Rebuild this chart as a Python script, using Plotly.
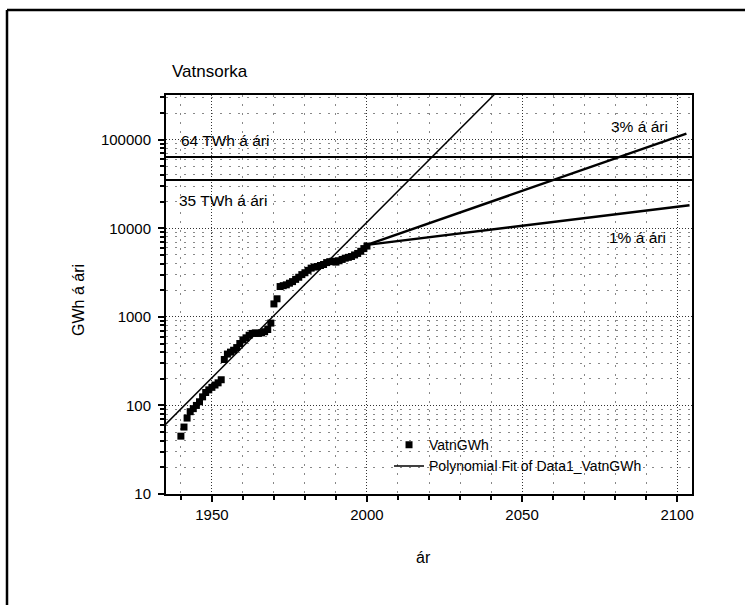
import plotly.graph_objects as go
import math

# ---- data ----
years = list(range(1940, 2001))
vatn_gwh = [45, 57, 72, 85, 92, 100, 110, 125, 140, 150,
            160, 170, 180, 195, 330, 380, 400, 420, 450, 500,
            550, 580, 620, 650, 660, 650, 660, 680, 720, 850,
            1400, 1600, 2200, 2250, 2300, 2400, 2500, 2650, 2800, 3000,
            3150, 3350, 3550, 3650, 3700, 3800, 3900, 4100, 4200, 4250,
            4150, 4300, 4450, 4600, 4700, 4800, 5000, 5200, 5500, 5900,
            6300]

fit_years = [1935, 2042]
fit_gwh = [61, 350000]

pct3_years = [2000, 2103]
pct3_gwh = [6500, 117000]

pct1_years = [2000, 2104]
pct1_gwh = [6500, 18200]

level_years = [1935, 2105]
level_64 = [64000, 64000]
level_35 = [35000, 35000]

labels = ["64 TWh á ári", "35 TWh á ári", "3% á ári", "1% á ári"]
label_x = [1939.5, 1938.9, 2097.7, 2097.2]
label_y = [98000, 20700, 140000, 7900]

x_range = [1935.2, 2104.8]
y_range_log = [1, 5.505]

FONT = "Liberation Sans, Arial, Helvetica, sans-serif"

fig = go.Figure()

fig.add_trace(go.Scatter(x=years, y=vatn_gwh, mode="markers", name="VatnGWh",
                         marker=dict(symbol="square", size=7, color="black")))
fig.add_trace(go.Scatter(x=fit_years, y=fit_gwh, mode="lines",
                         name="Polynomial Fit of Data1_VatnGWh",
                         line=dict(color="black", width=1.5)))
fig.add_trace(go.Scatter(x=pct3_years, y=pct3_gwh, mode="lines", showlegend=False,
                         line=dict(color="black", width=2.5)))
fig.add_trace(go.Scatter(x=pct1_years, y=pct1_gwh, mode="lines", showlegend=False,
                         line=dict(color="black", width=2.5)))
fig.add_trace(go.Scatter(x=level_years, y=level_64, mode="lines", showlegend=False,
                         line=dict(color="black", width=2)))
fig.add_trace(go.Scatter(x=level_years, y=level_35, mode="lines", showlegend=False,
                         line=dict(color="black", width=2)))

anns = []
for t, x, y, i in zip(labels, label_x, label_y, range(4)):
    anns.append(dict(x=x, y=math.log10(y), xref="x", yref="y", text=t, showarrow=False,
                     xanchor="left" if i < 2 else "right", yanchor="middle",
                     font=dict(family=FONT, size=15.5, color="black")))
# title and axis titles
anns.append(dict(x=(170 - 166) / 526, y=1 + (95 - 72) / 399, xref="paper", yref="paper",
                 text="Vatnsorka", showarrow=False, xanchor="left", yanchor="middle",
                 font=dict(family=FONT, size=17, color="black")))
anns.append(dict(x=(78 - 166) / 526, y=1 - (300 - 95) / 399, xref="paper", yref="paper",
                 text="GWh á ári", showarrow=False, textangle=-90, xanchor="center", yanchor="middle",
                 font=dict(family=FONT, size=16, color="black")))
anns.append(dict(x=(423 - 166) / 526, y=1 - (557 - 95) / 399, xref="paper", yref="paper",
                 text="ár", showarrow=False, xanchor="center", yanchor="middle",
                 font=dict(family=FONT, size=16, color="black")))

shapes = [
    dict(type="line", xref="paper", yref="paper", x0=(7 - 166) / 526, x1=(760 - 166) / 526,
         y0=1 + (95 - 10) / 399, y1=1 + (95 - 10) / 399, line=dict(color="black", width=2.5)),
    dict(type="line", xref="paper", yref="paper", x0=(7 - 166) / 526, x1=(7 - 166) / 526,
         y0=1 + (95 - 10) / 399, y1=(494 - 620) / 399, line=dict(color="black", width=2.5)),
]

fig.update_layout(
    width=745, height=605,
    margin=dict(l=166, r=53, t=95, b=111),
    paper_bgcolor="white", plot_bgcolor="white",
    font=dict(family=FONT, size=15, color="black"),
    annotations=anns, shapes=shapes,
    legend=dict(x=0.424, y=0.1625, xanchor="left", yanchor="top",
                bgcolor="rgba(0,0,0,0)", borderwidth=0,
                font=dict(family=FONT, size=14, color="black"),
                tracegroupgap=0, itemwidth=30),
)

fig.update_xaxes(range=x_range, tick0=1950, dtick=50, ticks="outside", ticklen=6, tickwidth=1.5,
                 tickcolor="black", showline=True, linecolor="black", linewidth=2, mirror=True,
                 showgrid=True, gridcolor="#333", gridwidth=1, griddash="1px,2px", zeroline=False,
                 tickfont=dict(family=FONT, size=15, color="black"),
                 minor=dict(dtick=10, tick0=1950, ticks="outside", ticklen=4, tickcolor="black",
                            showgrid=True, gridcolor="#888", griddash="2px,7px", gridwidth=1))
fig.update_yaxes(type="log", range=y_range_log, dtick=1, tickformat="d", ticks="outside",
                 ticklen=6, tickwidth=1.5, tickcolor="black", ticklabelstandoff=4,
                 showline=True, linecolor="black", linewidth=2, mirror=True,
                 showgrid=True, gridcolor="#333", gridwidth=1, griddash="1px,2px", zeroline=False,
                 tickfont=dict(family=FONT, size=15, color="black"),
                 minor=dict(dtick="D1", ticks="outside", ticklen=4, tickcolor="black",
                            showgrid=True, gridcolor="#888", griddash="2px,7px", gridwidth=1))

fig.write_html("out.html")
